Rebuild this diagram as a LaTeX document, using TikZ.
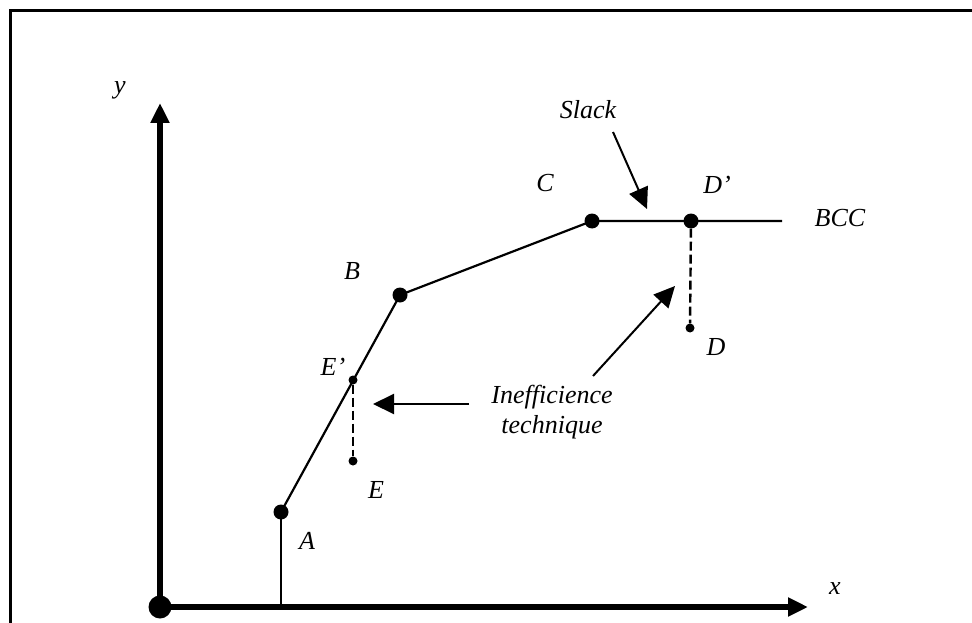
\documentclass[tikz,border=0pt]{standalone}
\usepackage{fontspec}
\setmainfont{Liberation Serif}
\usetikzlibrary{arrows.meta,positioning}

\begin{document}
\begin{tikzpicture}[
            x=1pt, y=-1pt,
            lbl/.style={font=\itshape\fontsize{26}{30}\selectfont, inner sep=0pt, align=center},
            bigdot/.style={circle, fill=black, inner sep=0pt, minimum size=15pt},
            smalldot/.style={circle, fill=black, inner sep=0pt, minimum size=9pt},
            origindot/.style={circle, fill=black, inner sep=0pt, minimum size=23pt},
            axis/.style={line width=6pt, -{Triangle[length=20pt, width=18pt]}},
            frontier/.style={line width=2.2pt},
            gap/.style={line width=2.4pt, dash pattern=on 9pt off 4pt},
            arrow/.style={line width=2pt, -{Triangle[length=21pt, width=20pt]}}
        ]
            \useasboundingbox (0,0) rectangle (972,623);
            % --- FRAME ---
            \draw[line width=3pt] (10,623) -- (10,11) -- (972,11);

            % --- AXES ---
            \node[origindot] (O) at (160,607) {};
            \coordinate (ytip) at (160,103);
            \coordinate (xtip) at (808,607);
            \draw[axis] (O.center) -- (ytip);
            \draw[axis] (O.center) -- (xtip);
            \node[lbl] (ylbl) at (120,90) {y};
            \node[lbl] (xlbl) at (835,589) {x};

            % --- FRONTIER ---
            \node[bigdot] (A) at (281,512) {};
            \node[bigdot] (B) at (400,295) {};
            \node[bigdot] (C) at (592,221) {};
            \node[bigdot] (Dp) at (691,221) {};
            \coordinate (bccend) at (782,221);
            \coordinate (Abase) at (281,607);
            \draw[line width=1.8pt] (Abase) -- (A.center);
            \draw[frontier] (A.center) -- (B.center) -- (C.center) -- (Dp.center) -- (bccend);

            % --- INEFFICIENT UNITS ---
            \node[smalldot] (Ep) at (353,380) {};
            \node[smalldot] (E) at (353,461) {};
            \node[smalldot] (D) at (690,328) {};
            \draw[gap] (Ep) -- (E);
            \draw[gap] (Dp) -- (D);

            % --- LABELS ---
            \node[lbl] (Albl) at (307,541) {A};
            \node[lbl] (Blbl) at (352,271) {B};
            \node[lbl] (Clbl) at (545,183) {C};
            \node[lbl] (Dplbl) at (717,185) {D’};
            \node[lbl] (bcc) at (840,218) {BCC};
            \node[lbl] (Eplbl) at (333,367) {E’};
            \node[lbl] (Elbl) at (376,490) {E};
            \node[lbl] (Dlbl) at (716,347) {D};
            \node[lbl] (slack) at (588,110) {Slack};
            \node[lbl] (ineff) at (552,412) {Inefficience\\technique};

            % --- POINTERS ---
            \coordinate (slacktip) at (647,209);
            \coordinate (lefttip) at (373,404);
            \coordinate (uptip) at (675,286);
            \draw[arrow] (613,132) -- (slacktip);
            \draw[arrow] (469,404) -- (lefttip);
            \draw[arrow] (593,376) -- (uptip);

        \end{tikzpicture}
\end{document}
